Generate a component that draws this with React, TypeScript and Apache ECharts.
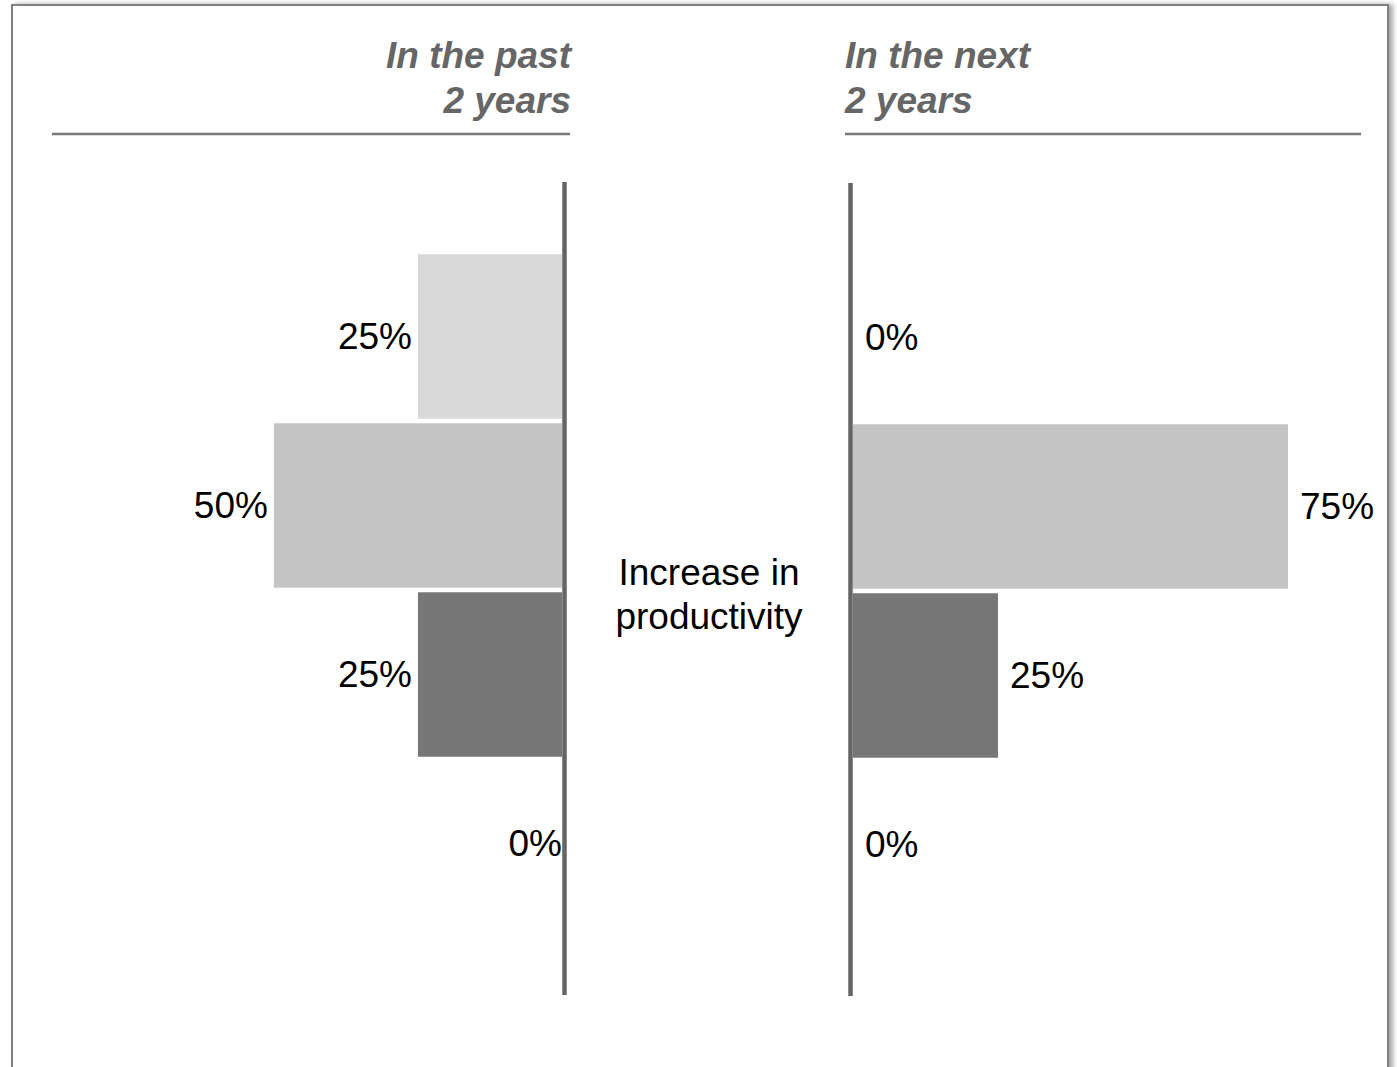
import React, { useEffect, useRef } from "react";
import * as echarts from "echarts";

const categories = ["Row 1", "Row 2", "Row 3", "Row 4"];
const pastValues = [25, 50, 25, 0];
const nextValues = [0, 75, 25, 0];
const barColors = ["#d9d9d9", "#c4c4c4", "#777777", "#777777"];
const pastTitle = "In the past\n2 years";
const nextTitle = "In the next\n2 years";
const centerLabel = "Increase in\nproductivity";

const FONT = "'Liberation Sans', Arial, Helvetica, sans-serif";

export default function App() {
  const ref = useRef<HTMLDivElement>(null);

  useEffect(() => {
    document.body.style.margin = "0";
    document.body.style.overflow = "hidden";
    if (!ref.current) return;
    const chart = echarts.init(ref.current, null, { renderer: "svg" });

    const mkData = (vals: number[], side: "left" | "right") =>
      vals.map((v, i) => ({
        value: v,
        itemStyle: { color: barColors[i] },
        label: {
          show: true,
          position: side,
          distance: side === "left" ? (v === 0 ? 0 : 6) : 12,
          formatter: "{c}%",
          color: "#000",
          fontSize: 37,
          fontFamily: FONT,
        },
      }));

    const option: any = {
      animation: false,
      backgroundColor: "transparent",
      grid: [
        { left: 101, top: 252, width: 461, height: 676, containLabel: false },
        { left: 853, top: 253, width: 464, height: 676, containLabel: false },
      ],
      xAxis: [
        { type: "value", gridIndex: 0, min: 0, max: 80, inverse: true, show: false },
        { type: "value", gridIndex: 1, min: 0, max: 80, show: false },
      ],
      yAxis: [
        { type: "category", gridIndex: 0, data: categories, inverse: true, show: false },
        { type: "category", gridIndex: 1, data: categories, inverse: true, show: false },
      ],
      series: [
        {
          type: "bar",
          xAxisIndex: 0,
          yAxisIndex: 0,
          barCategoryGap: "2.7%",
          data: mkData(pastValues, "left"),
        },
        {
          type: "bar",
          xAxisIndex: 1,
          yAxisIndex: 1,
          barCategoryGap: "2.7%",
          data: mkData(nextValues, "right"),
        },
      ],
      graphic: [
        {
          type: "rect",
          z: -10,
          silent: true,
          shape: { x: 12, y: 5, width: 1376, height: 1200 },
          style: {
            fill: "#fff",
            stroke: "#808080",
            lineWidth: 2,
            shadowColor: "rgba(0,0,0,0.35)",
            shadowBlur: 5,
            shadowOffsetX: 4,
            shadowOffsetY: 0,
          },
        },
        {
          type: "line",
          shape: { x1: 52, y1: 134, x2: 570, y2: 134 },
          style: { stroke: "#787878", lineWidth: 2.5 },
        },
        {
          type: "line",
          shape: { x1: 845, y1: 134, x2: 1361, y2: 134 },
          style: { stroke: "#787878", lineWidth: 2.5 },
        },
        {
          type: "line",
          z: 10,
          shape: { x1: 564.5, y1: 182, x2: 564.5, y2: 995 },
          style: { stroke: "#656565", lineWidth: 4.5 },
        },
        {
          type: "line",
          z: 10,
          shape: { x1: 850.5, y1: 183, x2: 850.5, y2: 996 },
          style: { stroke: "#656565", lineWidth: 4.5 },
        },
        {
          type: "text",
          x: 571,
          y: 78,
          style: {
            text: pastTitle,
            align: "right",
            verticalAlign: "middle",
            fill: "#666666",
            font: `italic bold 37px ${FONT}`,
            lineHeight: 45,
          },
        },
        {
          type: "text",
          x: 845,
          y: 78,
          style: {
            text: nextTitle,
            align: "left",
            verticalAlign: "middle",
            fill: "#666666",
            font: `italic bold 37px ${FONT}`,
            lineHeight: 45,
          },
        },
        {
          type: "text",
          x: 709,
          y: 594,
          style: {
            text: centerLabel,
            align: "center",
            verticalAlign: "middle",
            fill: "#000",
            font: `37px ${FONT}`,
            lineHeight: 44,
          },
        },
      ],
    };

    chart.setOption(option);
    return () => chart.dispose();
  }, []);

  return <div ref={ref} style={{ width: 1397, height: 1067 }} />;
}
